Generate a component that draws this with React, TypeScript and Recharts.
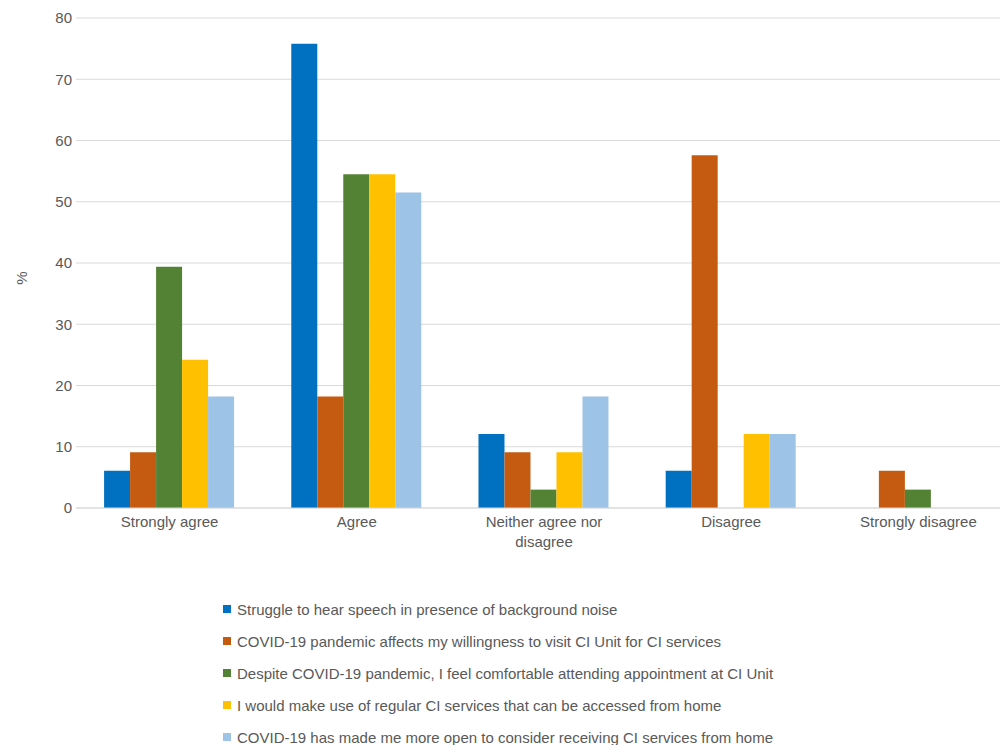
import React from 'react';
import { BarChart, Bar, XAxis, YAxis, CartesianGrid, Legend, Text } from 'recharts';

const FONT = '"Liberation Sans", Arial, sans-serif';
const TEXT_GRAY = '#595959';

const categories = ['Strongly agree', 'Agree', 'Neither agree nor disagree', 'Disagree', 'Strongly disagree'];

// % of respondents per answer
const struggleNoise = [6.1, 75.8, 12.1, 6.1, 0];
const willingnessToVisit = [9.1, 18.2, 9.1, 57.6, 6.1];
const comfortableAttending = [39.4, 54.5, 3.0, 0, 3.0];
const useFromHome = [24.2, 54.5, 9.1, 12.1, 0];
const moreOpenFromHome = [18.2, 51.5, 18.2, 12.1, 0];

const yTicks = [0, 10, 20, 30, 40, 50, 60, 70, 80];

const series = [
  { key: 'noise', name: 'Struggle to hear speech in presence of background noise', values: struggleNoise, color: '#0070C0' },
  { key: 'visit', name: 'COVID-19 pandemic affects my willingness to visit CI Unit for CI services', values: willingnessToVisit, color: '#C55A11' },
  { key: 'attend', name: 'Despite COVID-19 pandemic, I feel comfortable attending appointment at CI Unit', values: comfortableAttending, color: '#548235' },
  { key: 'home', name: 'I would make use of regular CI services that can be accessed from home', values: useFromHome, color: '#FFC000' },
  { key: 'open', name: 'COVID-19 has made me more open to consider receiving CI services from home', values: moreOpenFromHome, color: '#9DC3E6' },
];

const data = categories.map((category, i) => {
  const row: Record<string, string | number> = { category };
  series.forEach((s) => {
    row[s.key] = s.values[i];
  });
  return row;
});

const CategoryTick = ({ x, y, payload }: any) => (
  <Text
    x={x}
    y={y + 8}
    width={150}
    textAnchor="middle"
    verticalAnchor="start"
    lineHeight={20}
    fill={TEXT_GRAY}
    style={{ fontSize: 15, fontFamily: FONT }}
  >
    {payload.value}
  </Text>
);

const AxisTitle = ({ viewBox }: any) => {
  const cx = 21;
  const cy = viewBox.y + viewBox.height / 2 + 15;
  return (
    <text
      x={cx}
      y={cy}
      transform={`rotate(-90 ${cx} ${cy})`}
      textAnchor="middle"
      dominantBaseline="central"
      fill={TEXT_GRAY}
      style={{ fontSize: 15, fontFamily: FONT }}
    >
      %
    </text>
  );
};

// legend rows kept in series order (the default payload gets sorted by name)
const LegendList = () => (
  <div style={{ height: 152, fontFamily: FONT, fontSize: 15, color: TEXT_GRAY }}>
    {series.map((s) => (
      <div key={s.key} style={{ height: 32, display: 'flex', alignItems: 'center', whiteSpace: 'nowrap' }}>
        <span style={{ display: 'inline-block', width: 8, height: 8, background: s.color, marginRight: 6 }} />
        {s.name}
      </div>
    ))}
  </div>
);

export default function App() {
  return (
    <div style={{ position: 'absolute', left: 0, top: 0, width: 1000, height: 745, overflow: 'hidden', background: '#fff' }}>
      <BarChart
        width={1012}
        height={745}
        data={data}
        margin={{ top: 18, right: 0, bottom: 0, left: 0 }}
        barCategoryGap="15%"
        barGap={0}
      >
        <CartesianGrid vertical={false} stroke="#d9d9d9" />
        <XAxis
          dataKey="category"
          interval={0}
          height={85}
          tickSize={0}
          tickMargin={0}
          tickLine={false}
          axisLine={{ stroke: '#d9d9d9' }}
          tick={<CategoryTick />}
        />
        <YAxis
          width={76}
          domain={[0, 80]}
          ticks={yTicks}
          tickSize={0}
          tickMargin={4}
          tickLine={false}
          axisLine={false}
          tick={{ fill: TEXT_GRAY, fontSize: 15, fontFamily: FONT }}
          label={{ value: '%', content: (p: any) => <AxisTitle {...p} /> }}
        />
        <Legend
          layout="vertical"
          verticalAlign="bottom"
          align="center"
          wrapperStyle={{ left: 223, width: 660 }}
          content={<LegendList />}
        />
        {series.map((s) => (
          <Bar key={s.key} dataKey={s.key} name={s.name} fill={s.color} isAnimationActive={false} />
        ))}
      </BarChart>
    </div>
  );
}
